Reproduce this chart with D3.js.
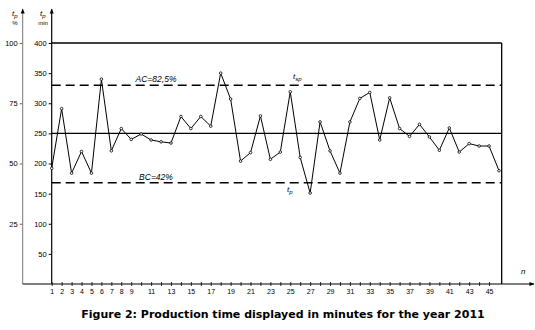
<!DOCTYPE html>
<html>
<head>
<meta charset="utf-8">
<script src="https://cdn.jsdelivr.net/npm/d3@7"></script>
<style>
  body { margin: 0; background: #fff; }
  svg { display: block; }
  text { fill: #000; }
</style>
</head>
<body>
<svg id="chart" width="535" height="330"></svg>
<script>
// production time per order n (minutes)
const runs = d3.range(1, 47);
const minutes = [192, 291, 184, 220, 184, 340, 221, 258, 240, 249,
                 239, 236, 234, 278, 258, 278, 262, 350, 307, 204,
                 218, 279, 207, 219, 319, 210, 151, 269, 221, 184,
                 269, 308, 318, 239, 309, 258, 245, 265, 244, 222,
                 259, 219, 233, 229, 229, 188];
const minTicks = [50, 100, 150, 200, 250, 300, 350, 400];
const pctTicks = [25, 50, 75, 100];
const runLabels = [1, 2, 3, 4, 5, 6, 7, 8, 9, 11, 13, 15, 17, 19, 21, 23, 25, 27, 29, 31, 33, 35, 37, 39, 41, 43, 45];
const limits = [
  { name: "AC=82,5%", value: 330, dashed: true },
  { name: "mean", value: 250, dashed: false },
  { name: "BC=42%", value: 168, dashed: true }
];

const svg = d3.select('#chart');
const font = "'Liberation Sans', Arial, sans-serif";

let x = d3.scaleLinear().domain([1, 46]).range([51.7, 499]);
let y = d3.scaleLinear().domain([0, 400]).range([284, 43]);
let yPct = d3.scaleLinear().domain([0, 100]).range([284, 43]);

const data = runs.map((n, i) => ({ n: n, value: minutes[i] }));

// arrow head
svg.append("defs").append("marker")
  .attr("id", "arrow")
  .attr("viewBox", "0 0 10 10")
  .attr("refX", 9).attr("refY", 5)
  .attr("markerWidth", 7).attr("markerHeight", 5)
  .attr("markerUnits", "userSpaceOnUse")
  .attr("orient", "auto")
  .append("path").attr("d", "M0,1 L10,5 L0,9 Z").attr("fill", "#000");

// percent axis (left)
const gp = svg.append("g").attr("transform", "translate(22.7,0)")
  .call(d3.axisLeft(yPct).tickValues(pctTicks).tickSize(3).tickPadding(2));
gp.select(".domain").remove();
gp.selectAll("line").attr("stroke", "#666");
gp.selectAll("text").attr("font-family", font).attr("font-size", 7.5).attr("fill", "#222");
svg.append("line")
  .attr("x1", 22.7).attr("x2", 22.7).attr("y1", 284).attr("y2", 9)
  .attr("stroke", "#777").attr("stroke-width", 1)
  .attr("marker-end", "url(#arrow)");

// minutes axis
const gy = svg.append("g").attr("transform", "translate(51.7,0)")
  .call(d3.axisLeft(y).tickValues(minTicks).tickSize(3).tickPadding(2));
gy.select(".domain").remove();
gy.selectAll("text").attr("font-family", font).attr("font-size", 7.5).attr("fill", "#222");
svg.append("line")
  .attr("x1", 51.7).attr("x2", 51.7).attr("y1", 284).attr("y2", 9)
  .attr("stroke", "#000").attr("stroke-width", 1.2)
  .attr("marker-end", "url(#arrow)");

// axis titles
function axisTitle(xp, sub, unit) {
  const t = svg.append("text").attr("x", xp).attr("y", 16)
    .attr("font-family", font).attr("font-size", 8).attr("font-style", "italic")
    .attr("fill", "#000");
  t.append("tspan").text("t");
  t.append("tspan").attr("dy", 2).attr("font-size", 6).text(sub);
  svg.append("text").attr("x", xp + 3).attr("y", 25)
    .attr("text-anchor", "middle").attr("fill", "#000")
    .attr("font-family", font).attr("font-size", 6).text(unit);
}
axisTitle(12, "p", "%");
axisTitle(40, "p", "min");

// frame: top line at 400 and right edge
svg.append("line")
  .attr("x1", 51.7).attr("x2", x(46.27)).attr("y1", y(400)).attr("y2", y(400))
  .attr("stroke", "#000").attr("stroke-width", 1.3);
svg.append("line")
  .attr("x1", x(46.27)).attr("x2", x(46.27)).attr("y1", y(400)).attr("y2", y(0))
  .attr("stroke", "#000").attr("stroke-width", 1.3);

// control limits
svg.append("g").selectAll("line")
  .data(limits)
  .join("line")
  .attr("x1", 51.7).attr("x2", x(46.27))
  .attr("y1", d => y(d.value)).attr("y2", d => y(d.value))
  .attr("stroke", "#000")
  .attr("stroke-width", d => d.dashed ? 1.5 : 1.2)
  .attr("stroke-dasharray", d => d.dashed ? "9,5" : null);

svg.append("text").attr("x", 156).attr("y", y(330) - 3)
  .attr("text-anchor", "middle").attr("font-family", font).attr("fill", "#000")
  .attr("font-size", 8.5).attr("font-style", "italic").text("AC=82,5%");
svg.append("text").attr("x", 156).attr("y", y(168) - 3)
  .attr("text-anchor", "middle").attr("font-family", font).attr("fill", "#000")
  .attr("font-size", 8.5).attr("font-style", "italic").text("BC=42%");

const tsp = svg.append("text").attr("x", 293).attr("y", 79).attr("fill", "#000")
  .attr("font-family", font).attr("font-size", 8).attr("font-style", "italic");
tsp.append("tspan").text("t");
tsp.append("tspan").attr("dy", 2).attr("font-size", 6).text("sp");
const tp = svg.append("text").attr("x", 287).attr("y", 192).attr("fill", "#000")
  .attr("font-family", font).attr("font-size", 8).attr("font-style", "italic");
tp.append("tspan").text("t");
tp.append("tspan").attr("dy", 2).attr("font-size", 6).text("p");

// x axis
const gx = svg.append("g").attr("transform", `translate(0,${y(0)})`)
  .call(d3.axisBottom(x).tickValues(d3.range(1, 46)).tickSize(2).tickPadding(3)
    .tickFormat(d => runLabels.includes(d) ? d : ""));
gx.select(".domain").remove();
gx.selectAll(".tick line").attr("y1", -2).attr("stroke", "#333");
gx.selectAll("text").attr("font-family", font).attr("font-size", 7).attr("fill", "#222");
svg.append("line")
  .attr("x1", 22.7).attr("x2", 534).attr("y1", y(0)).attr("y2", y(0))
  .attr("stroke", "#000").attr("stroke-width", 1.2)
  .attr("marker-end", "url(#arrow)");
svg.append("text").attr("x", 521).attr("y", 274).attr("fill", "#000")
  .attr("font-family", font).attr("font-size", 8).attr("font-style", "italic").text("n");

// production time line
const line = d3.line().x(d => x(d.n)).y(d => y(d.value));
svg.append("path")
  .datum(data)
  .attr("d", line)
  .attr("fill", "none")
  .attr("stroke", "#000")
  .attr("stroke-width", 1);
svg.append("g").selectAll("circle")
  .data(data)
  .join("circle")
  .attr("cx", d => x(d.n))
  .attr("cy", d => y(d.value))
  .attr("r", 1.3)
  .attr("fill", "#fff")
  .attr("stroke", "#000")
  .attr("stroke-width", 0.8);

// caption
svg.append("text").attr("x", 283).attr("y", 318)
  .attr("text-anchor", "middle")
  .attr("font-family", "'DejaVu Sans', Verdana, sans-serif")
  .attr("font-weight", "bold").attr("font-size", 11).attr("fill", "#1a1a1a")
  .text("Figure 2: Production time displayed in minutes for the year 2011");
</script>
</body>
</html>
